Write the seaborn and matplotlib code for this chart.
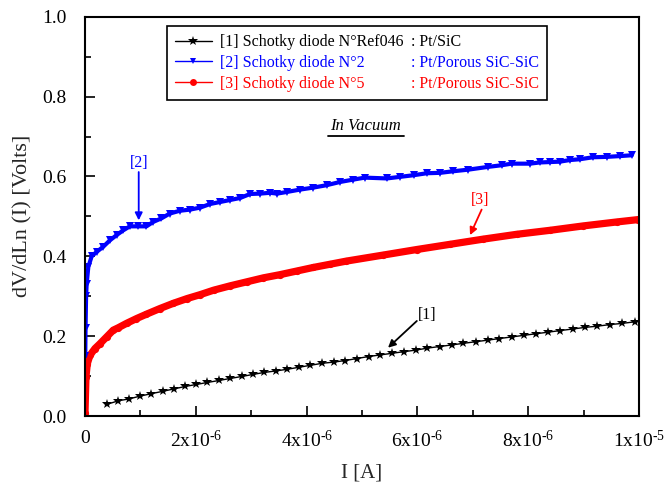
import matplotlib
matplotlib.use("Agg")
import matplotlib.pyplot as plt
from matplotlib.lines import Line2D
from matplotlib.ticker import MultipleLocator, FuncFormatter
import pandas as pd
import seaborn as sns

# Current values are given in microamps (x 1e-6 A), voltages in volts
i_diode1 = [0.39, 0.60, 0.80, 1.00, 1.20, 1.41, 1.61, 1.81, 2.01, 2.21, 2.42, 2.62,
            2.83, 3.03, 3.23, 3.45, 3.65, 3.86, 4.07, 4.28, 4.49, 4.70, 4.91, 5.12,
            5.33, 5.54, 5.75, 5.97, 6.18, 6.40, 6.62, 6.83, 7.05, 7.27, 7.48, 7.70,
            7.92, 8.14, 8.36, 8.58, 8.81, 9.03, 9.25, 9.48, 9.70, 9.93]
v_diode1 = [0.029, 0.038, 0.043, 0.050, 0.056, 0.062, 0.068, 0.074, 0.079, 0.084, 0.089, 0.094,
            0.099, 0.104, 0.109, 0.113, 0.117, 0.122, 0.127, 0.132, 0.135, 0.139, 0.144, 0.149,
            0.153, 0.157, 0.161, 0.165, 0.170, 0.174, 0.178, 0.182, 0.186, 0.190, 0.194, 0.198,
            0.202, 0.206, 0.210, 0.214, 0.218, 0.222, 0.225, 0.229, 0.232, 0.236]

i_diode2 = [0.005, 0.01, 0.02, 0.03, 0.06, 0.12, 0.21, 0.33, 0.45, 0.57, 0.69, 0.81,
            0.96, 1.11, 1.23, 1.38, 1.53, 1.71, 1.90, 2.08, 2.26, 2.44, 2.62, 2.80,
            2.98, 3.16, 3.34, 3.47, 3.64, 3.88, 4.12, 4.36, 4.60, 4.84, 5.05, 5.45,
            5.69, 5.93, 6.17, 6.41, 6.65, 6.92, 7.28, 7.52, 7.70, 8.03, 8.21, 8.39,
            8.57, 8.75, 8.93, 9.17, 9.42, 9.66, 9.87]
v_diode2 = [0.150, 0.220, 0.300, 0.330, 0.373, 0.400, 0.411, 0.424, 0.440, 0.453, 0.465, 0.475,
            0.475, 0.475, 0.486, 0.495, 0.507, 0.514, 0.517, 0.522, 0.531, 0.536, 0.541, 0.546,
            0.556, 0.557, 0.559, 0.557, 0.561, 0.567, 0.572, 0.578, 0.586, 0.592, 0.597, 0.595,
            0.599, 0.603, 0.608, 0.609, 0.613, 0.617, 0.624, 0.628, 0.632, 0.632, 0.635, 0.636,
            0.637, 0.641, 0.643, 0.648, 0.649, 0.651, 0.653]

i_diode3 = [0.0, 0.018, 0.042, 0.09, 0.18, 0.27, 0.39, 0.51, 0.60, 0.75, 0.93, 1.11,
            1.35, 1.59, 1.84, 2.08, 2.32, 2.62, 2.92, 3.22, 3.52, 3.82, 4.12, 4.42,
            4.72, 5.38, 5.99, 6.59, 7.19, 7.79, 8.39, 8.99, 9.60, 9.99]
v_diode3 = [0.007, 0.098, 0.131, 0.152, 0.169, 0.181, 0.198, 0.215, 0.221, 0.232, 0.244, 0.255,
            0.269, 0.282, 0.294, 0.304, 0.315, 0.326, 0.336, 0.346, 0.354, 0.363, 0.372, 0.380,
            0.388, 0.403, 0.417, 0.430, 0.443, 0.455, 0.465, 0.476, 0.486, 0.492]

series_labels = ["[1] Schotky diode N°Ref046", "[2] Schotky diode N°2", "[3] Schotky diode N°5"]
structure_labels = [": Pt/SiC", ": Pt/Porous SiC-SiC", ": Pt/Porous SiC-SiC"]
series_colors = ["black", "#0000ff", "#ff0000"]

MICRO = 1e-6
df1 = pd.DataFrame({"I": [v * MICRO for v in i_diode1], "V": v_diode1})
df2 = pd.DataFrame({"I": [v * MICRO for v in i_diode2], "V": v_diode2})
df3 = pd.DataFrame({"I": [v * MICRO for v in i_diode3], "V": v_diode3})

sns.set_theme(style="ticks")
plt.rcParams["font.family"] = ["Liberation Serif", "DejaVu Serif"]
plt.rcParams["mathtext.fontset"] = "stix"

fig = plt.figure(figsize=(6.67, 4.83), dpi=100)
ax = fig.add_axes([0.1274, 0.1387, 0.8306, 0.8267])

sns.lineplot(data=df1, x="I", y="V", ax=ax, color=series_colors[0], lw=1.0,
             marker="*", markersize=7.5, markeredgewidth=0, sort=False, estimator=None)
sns.lineplot(data=df3, x="I", y="V", ax=ax, color=series_colors[2], lw=5.2,
             marker="o", markersize=5.2, markeredgewidth=0, sort=False, estimator=None)
sns.lineplot(data=df2, x="I", y="V", ax=ax, color=series_colors[1], lw=3.0,
             marker="v", markersize=6, markeredgewidth=0, sort=False, estimator=None)

ax.set_xlim(0, 1e-5)
ax.set_ylim(0, 1.0)
ax.xaxis.set_major_locator(MultipleLocator(2e-6))
ax.xaxis.set_minor_locator(MultipleLocator(1e-6))
ax.yaxis.set_major_locator(MultipleLocator(0.2))
ax.yaxis.set_minor_locator(MultipleLocator(0.1))

HYPHEN = "\u2010"


def sci_label(x, pos):
    if abs(x) < 1e-12:
        return "0"
    exp = int(f"{x:e}".split("e")[1])
    mant = round(x / 10 ** exp)
    # short hyphen in the exponent, as in a typeset "x10-6"
    return "$\\mathregular{%dx10^{%s%d}}$" % (mant, HYPHEN, abs(exp))


ax.xaxis.set_major_formatter(FuncFormatter(sci_label))
ax.yaxis.set_major_formatter(FuncFormatter(lambda y, p: f"{y:.1f}"))

ax.tick_params(which="both", direction="in", top=False, right=False, width=1.2,
               labelsize=14, colors="black")
ax.tick_params(axis="y", which="both", pad=13)
ax.tick_params(axis="x", which="both", pad=10)
ax.tick_params(which="major", length=7)
ax.tick_params(which="minor", length=4)
for sp in ax.spines.values():
    sp.set_visible(True)
    sp.set_linewidth(1.5)
    sp.set_color("black")

ax.set_xlabel("I [A]", fontsize=15, labelpad=9)
ax.set_ylabel("dV/dLn (I) [Volts]", fontsize=16, labelpad=7)

# Legend: series name column plus structure column
handles = [
    Line2D([], [], color=series_colors[0], lw=1.0, marker="*", ms=7, mew=0),
    Line2D([], [], color=series_colors[1], lw=1.0, marker="v", ms=5, mew=0),
    Line2D([], [], color=series_colors[2], lw=1.0, marker="o", ms=5, mew=0),
]
blank = [Line2D([], [], color="none") for _ in range(3)]
leg = ax.legend(handles + blank, series_labels + structure_labels, ncol=2,
                loc="upper center", bbox_to_anchor=(0.491, 0.996), fontsize=11.5,
                handlelength=2.3, handletextpad=0.5, columnspacing=-2.3,
                labelspacing=0.3, borderpad=0.5, frameon=True, fancybox=False,
                edgecolor="black", framealpha=1)
leg.get_frame().set_linewidth(1.2)
for txt, col in zip(leg.get_texts(), series_colors + series_colors):
    txt.set_color(col)

# Condition note, underlined
note = ax.text(5.07e-6, 0.726, "In Vacuum", fontsize=12, fontstyle="italic",
               ha="center", va="center", color="black")
fig.canvas.draw()
bb = note.get_window_extent().transformed(ax.transAxes.inverted())
ax.add_line(Line2D([bb.x0 - 0.005, bb.x1 + 0.005], [bb.y0 - 0.004, bb.y0 - 0.004],
                   transform=ax.transAxes, color="black", lw=1.3))

# Curve markers with arrows
arrow_kw = dict(arrowstyle="-|>", lw=1.3, mutation_scale=11, shrinkA=0, shrinkB=0)
ax.annotate("", xy=(0.97e-6, 0.49), xytext=(0.97e-6, 0.611),
            arrowprops=dict(color=series_colors[1], **arrow_kw))
ax.text(0.97e-6, 0.633, "[2]", color=series_colors[1], fontsize=11.5, ha="center", va="center")
ax.annotate("", xy=(6.95e-6, 0.453), xytext=(7.16e-6, 0.517),
            arrowprops=dict(color=series_colors[2], **arrow_kw))
ax.text(7.13e-6, 0.541, "[3]", color=series_colors[2], fontsize=11.5, ha="center", va="center")
ax.annotate("", xy=(5.47e-6, 0.171), xytext=(5.99e-6, 0.238),
            arrowprops=dict(color=series_colors[0], **arrow_kw))
ax.text(6.17e-6, 0.253, "[1]", color=series_colors[0], fontsize=11.5, ha="center", va="center")

fig.savefig("out.png", dpi=100)
